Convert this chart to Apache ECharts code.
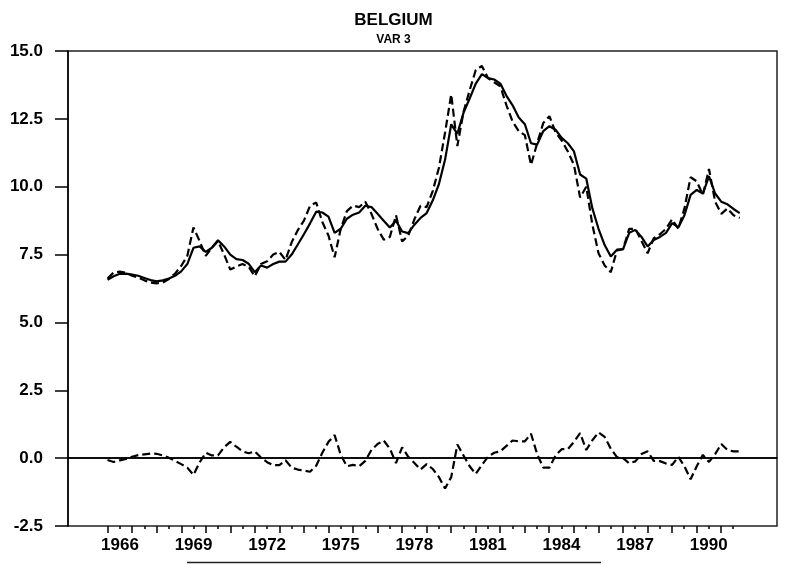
<!DOCTYPE html>
<html>
<head>
<meta charset="utf-8">
<script src="https://cdn.jsdelivr.net/npm/echarts@6/dist/echarts.min.js"></script>
<style>
  html, body { margin: 0; padding: 0; background: #fff; }
  #chart { width: 787px; height: 564px; }
</style>
</head>
<body>
<div id="chart"></div>
<script>
// quarterly series, first point 1966 Q1
var startYear = 1966;
var yearLabels = ['1966', '1969', '1972', '1975', '1978', '1981', '1984', '1987', '1990'];
var yTicks = [-2.5, 0, 2.5, 5, 7.5, 10, 12.5, 15];

// solid line (actual)
var actual = [
    6.57, 6.70, 6.79, 6.80, 6.76, 6.72, 6.64, 6.56, 6.51, 6.55, 6.62, 6.72,
    6.88, 7.15, 7.75, 7.80, 7.60, 7.75, 8.03, 7.80, 7.50, 7.33, 7.30, 7.16,
    6.85, 7.10, 7.02, 7.15, 7.24, 7.24, 7.50, 7.87, 8.25, 8.65, 9.08, 9.05,
    8.90, 8.30, 8.45, 8.82, 8.97, 9.05, 9.30, 9.25, 9.00, 8.75, 8.50, 8.75,
    8.35, 8.29, 8.60, 8.85, 9.03, 9.50, 10.10, 11.00, 12.30, 11.95, 12.72, 13.25,
    13.80, 14.15, 14.00, 13.95, 13.80, 13.35, 13.00, 12.55, 12.30, 11.60, 11.55, 12.05,
    12.23, 12.10, 11.80, 11.60, 11.30, 10.45, 10.30, 9.20, 8.45, 7.85, 7.43, 7.68,
    7.70, 8.30, 8.41, 8.15, 7.80, 8.04, 8.15, 8.30, 8.66, 8.50, 8.95, 9.70,
    9.88, 9.75, 10.38, 9.75, 9.45, 9.35, 9.18, 9.03
];

// dashed line (fitted)
var fitted = [
    6.62, 6.84, 6.87, 6.83, 6.72, 6.65, 6.55, 6.47, 6.44, 6.47, 6.60, 6.80,
    7.08, 7.45, 8.50, 8.00, 7.45, 7.75, 8.00, 7.50, 6.95, 7.06, 7.15, 7.05,
    6.70, 7.15, 7.25, 7.50, 7.60, 7.30, 7.95, 8.40, 8.75, 9.30, 9.42, 8.70,
    8.20, 7.40, 8.45, 9.10, 9.30, 9.25, 9.45, 9.00, 8.45, 8.05, 8.15, 8.95,
    7.98, 8.20, 8.80, 9.30, 9.25, 9.85, 10.70, 12.00, 13.40, 11.50, 12.75, 13.55,
    14.30, 14.45, 14.00, 13.85, 13.70, 13.00, 12.40, 12.05, 11.90, 10.80, 11.60, 12.35,
    12.60, 12.00, 11.70, 11.30, 10.80, 9.60, 10.00, 8.60, 7.55, 7.10, 6.85, 7.65,
    7.70, 8.45, 8.45, 8.00, 7.55, 8.10, 8.25, 8.45, 8.80, 8.45, 9.20, 10.35,
    10.20, 9.70, 10.65, 9.45, 9.00, 9.20, 8.95, 8.85
];

// dashed line near zero (residual)
var residual = [
    -0.07, -0.14, -0.08, -0.03, 0.05, 0.11, 0.14, 0.17, 0.16, 0.10, 0.01, -0.10,
    -0.22, -0.35, -0.62, -0.16, 0.20, 0.10, 0.10, 0.40, 0.60, 0.42, 0.25, 0.18,
    0.25, 0.02, -0.15, -0.26, -0.26, -0.08, -0.35, -0.42, -0.46, -0.50, -0.28, 0.20,
    0.60, 0.85, 0.12, -0.30, -0.25, -0.30, -0.10, 0.30, 0.52, 0.65, 0.35, -0.18,
    0.40, 0.05, -0.18, -0.42, -0.22, -0.40, -0.70, -1.12, -0.70, 0.50, 0.10, -0.30,
    -0.58, -0.25, 0.05, 0.20, 0.25, 0.45, 0.65, 0.62, 0.62, 0.90, 0.15, -0.35,
    -0.35, 0.10, 0.33, 0.33, 0.60, 0.92, 0.30, 0.66, 0.95, 0.78, 0.35, 0.04,
    0.00, -0.19, -0.12, 0.15, 0.25, -0.10, -0.11, -0.20, -0.25, 0.05, -0.30, -0.78,
    -0.30, 0.12, -0.14, 0.15, 0.52, 0.30, 0.25, 0.25
];

function toPoints(arr) {
    var out = [];
    for (var i = 0; i < arr.length; i++) {
        out.push([startYear + i / 4, arr[i]]);
    }
    return out;
}

var lastTick = startYear + (actual.length - 2) / 4;   // ticks stop at 1991.5
var fontBold = { fontFamily: 'Liberation Sans, Arial, sans-serif', fontWeight: 'bold', color: '#000' };

var myChart = echarts.init(document.getElementById('chart'));
var option = {
    animation: false,
    backgroundColor: '#fff',
    title: {
        left: 'center',
        top: 7,
        text: 'BELGIUM',
        subtext: 'VAR 3',
        itemGap: 5,
        textStyle: { fontFamily: 'Liberation Sans, Arial, sans-serif', fontWeight: 'bold', fontSize: 17, color: '#000' },
        subtextStyle: { fontFamily: 'Liberation Sans, Arial, sans-serif', fontWeight: 'bold', fontSize: 12, color: '#000' }
    },
    grid: [
        { left: 68, right: 10, top: 51, bottom: 38, show: true, borderColor: '#222', borderWidth: 1.5 },
        { left: 107.7, right: 787 - 733.2, top: 51, bottom: 38 },
        { left: 107.7, right: 787 - 720.9, top: 51, bottom: 38 }
    ],
    xAxis: [
        {
            gridIndex: 0, type: 'value', min: 1964.39, max: 1993.27,
            axisLine: { lineStyle: { color: '#000', width: 1.5 } },
            axisTick: { show: false },
            axisLabel: { show: false },
            splitLine: { show: false }
        },
        {
            // half-year ticks and year labels
            gridIndex: 1, type: 'value', min: startYear, max: lastTick, interval: 0.5,
            axisLine: { show: false },
            axisTick: { length: 3, lineStyle: { color: '#000', width: 1.5 } },
            axisLabel: Object.assign({
                fontSize: 17, margin: 11,
                formatter: function (v) {
                    var y = v - 0.5;
                    if (Math.abs(y - Math.round(y)) > 1e-6) return '';
                    var s = String(Math.round(y));
                    return yearLabels.indexOf(s) >= 0 ? s : '';
                }
            }, fontBold),
            splitLine: { show: false }
        },
        {
            // yearly ticks
            gridIndex: 2, type: 'value', min: startYear, max: 1991, interval: 1,
            axisLine: { show: false },
            axisTick: { length: 7, lineStyle: { color: '#000', width: 1.5 } },
            axisLabel: { show: false },
            splitLine: { show: false }
        }
    ],
    yAxis: [
        {
            gridIndex: 0, type: 'value', min: yTicks[0], max: yTicks[yTicks.length - 1], interval: 2.5,
            axisLine: { show: true, lineStyle: { color: '#000', width: 1.5 } },
            axisTick: { show: true, length: 13, lineStyle: { color: '#000', width: 1.5 } },
            axisLabel: Object.assign({
                fontSize: 17, margin: 25,
                formatter: function (v) { return v.toFixed(1); }
            }, fontBold),
            splitLine: { show: false }
        },
        { gridIndex: 1, type: 'value', show: false, min: 0, max: 1 },
        { gridIndex: 2, type: 'value', show: false, min: 0, max: 1 }
    ],
    series: [
        {
            type: 'line', xAxisIndex: 0, yAxisIndex: 0,
            data: toPoints(actual),
            showSymbol: false,
            lineStyle: { color: '#000', width: 2.2 },
            z: 3
        },
        {
            type: 'line', xAxisIndex: 0, yAxisIndex: 0,
            data: toPoints(fitted),
            showSymbol: false,
            lineStyle: { color: '#000', width: 2.2, type: [8, 4] },
            z: 2
        },
        {
            type: 'line', xAxisIndex: 0, yAxisIndex: 0,
            data: toPoints(residual),
            showSymbol: false,
            lineStyle: { color: '#000', width: 2.2, type: [8, 4] },
            markLine: {
                silent: true,
                symbol: 'none',
                label: { show: false },
                lineStyle: { color: '#000', width: 1.5, type: 'solid' },
                data: [{ yAxis: 0 }]
            },
            z: 2
        }
    ],
    graphic: [
        {
            // stray rule under the axis labels in the scan
            type: 'line',
            shape: { x1: 187, y1: 562.5, x2: 601, y2: 562.5 },
            style: { stroke: '#222', lineWidth: 1.5 }
        }
    ]
};
myChart.setOption(option, true);
</script>
</body>
</html>
